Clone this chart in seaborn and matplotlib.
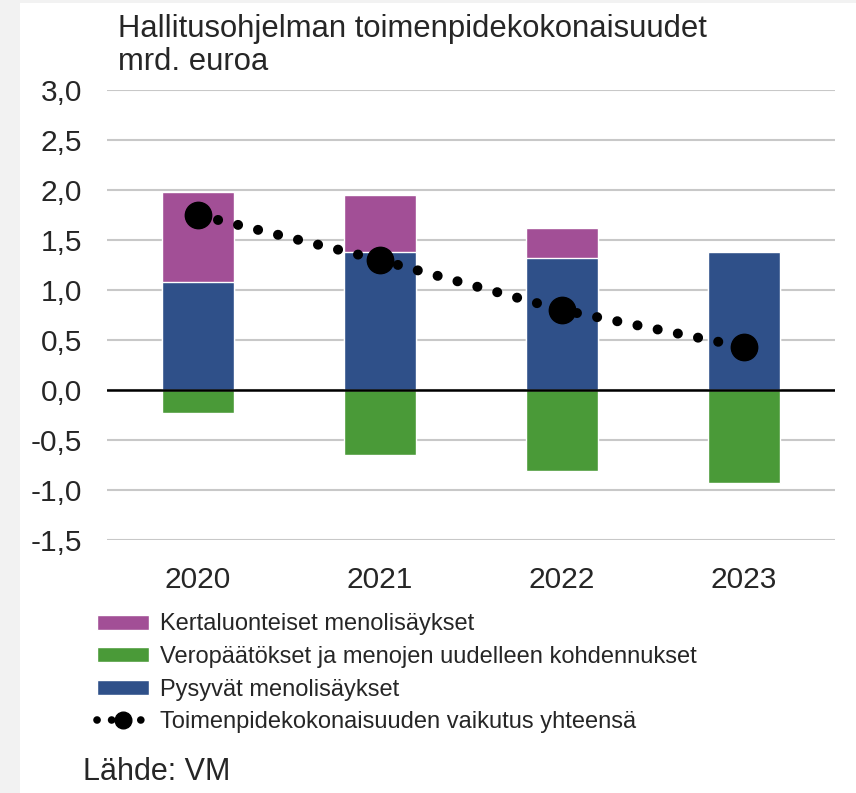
import matplotlib
matplotlib.use("Agg")
import matplotlib.pyplot as plt
import seaborn as sns
import pandas as pd
from matplotlib.patches import Patch, Rectangle
from matplotlib.lines import Line2D

# data (mrd. euroa)
years = ["2020", "2021", "2022", "2023"]
pysyvat = [1.08, 1.38, 1.32, 1.38]
kertaluonteiset = [0.90, 0.57, 0.30, 0.00]
veropaatokset = [-0.23, -0.65, -0.81, -0.93]
yhteensa = [1.75, 1.30, 0.80, 0.43]

labels = [
    "Kertaluonteiset menolisäykset",
    "Veropäätökset ja menojen uudelleen kohdennukset",
    "Pysyvät menolisäykset",
    "Toimenpidekokonaisuuden vaikutus yhteensä",
]

c_purple = "#A24F96"
c_green = "#4A9A38"
c_blue = "#2F5089"

sns.set_theme(style="white")
plt.rcParams["font.family"] = ["Liberation Sans", "DejaVu Sans"]

df = pd.DataFrame({"year": years, "pysyvat": pysyvat,
                   "kerta": kertaluonteiset, "vero": veropaatokset,
                   "total": yhteensa})
df["top"] = df["pysyvat"] + df["kerta"]

fig = plt.figure(figsize=(8.56, 7.93), dpi=100)
fig.patch.set_facecolor("#f2f2f2")
fig.patches.append(Rectangle((20 / 856, 0), 1, 1 - 3 / 793, transform=fig.transFigure,
                             facecolor="white", edgecolor="none", zorder=-10))
ax = fig.add_axes([107 / 856, 1 - 540 / 793, 728 / 856, 450 / 793])
ax.set_facecolor("white")

# stacked bars: draw the total height first, then overlay the base
sns.barplot(data=df, x="year", y="top", color=c_purple, width=0.4,
            saturation=1, ax=ax, zorder=2)
sns.barplot(data=df, x="year", y="pysyvat", color=c_blue, width=0.4,
            saturation=1, ax=ax, zorder=3)
sns.barplot(data=df, x="year", y="vero", color=c_green, width=0.4,
            saturation=1, ax=ax, zorder=3)

# total effect: dotted line plus big markers
dots = (0, (0.01, 2.05))
x = range(len(years))
ax.plot(x, df["total"], color="black", lw=7.2, linestyle=dots,
        dash_capstyle="round", zorder=5)
ax.plot(x, df["total"], color="black", lw=0, marker="o", markersize=19, zorder=6)

ax.axhline(0, color="black", lw=1.8, zorder=4)
ax.set_ylim(-1.5, 3.0)
ax.set_xlim(-0.5, 3.5)
ticks = [-1.5, -1.0, -0.5, 0.0, 0.5, 1.0, 1.5, 2.0, 2.5, 3.0]
ax.set_yticks(ticks)
ax.set_yticklabels([f"{t:.1f}".replace(".", ",") for t in ticks])
ax.yaxis.grid(True, color="#c8c8c8", lw=1.5, zorder=0)
ax.set_axisbelow(True)
for s in ax.spines.values():
    s.set_visible(False)
ax.tick_params(axis="y", labelsize=21.5, length=0, pad=18)
ax.tick_params(axis="x", labelsize=21.5, length=0, pad=19)
ax.set_xlabel("")
ax.set_ylabel("")

fig.text(118 / 856, 1 - 29 / 793, "Hallitusohjelman toimenpidekokonaisuudet",
         fontsize=22.3, va="center", ha="left")
fig.text(118 / 856, 1 - 62 / 793, "mrd. euroa",
         fontsize=22.3, va="center", ha="left")

handles = [
    Patch(facecolor=c_purple),
    Patch(facecolor=c_green),
    Patch(facecolor=c_blue),
    Line2D([0], [0], color="black", lw=5.5, linestyle=(0, (0.01, 1.9)),
           dash_capstyle="round", marker="o", markersize=12, markevery=[1]),
]
fig.legend(handles, labels, loc="upper left", bbox_to_anchor=(88 / 856, 1 - 604 / 793),
           frameon=False, fontsize=17, handlelength=2.2, handleheight=0.6,
           handletextpad=0.45, labelspacing=0.45, borderaxespad=0)

fig.text(83 / 856, 1 - 772 / 793, "Lähde: VM", fontsize=22, va="center", ha="left")

fig.savefig("out.png", dpi=100, facecolor=fig.get_facecolor())
